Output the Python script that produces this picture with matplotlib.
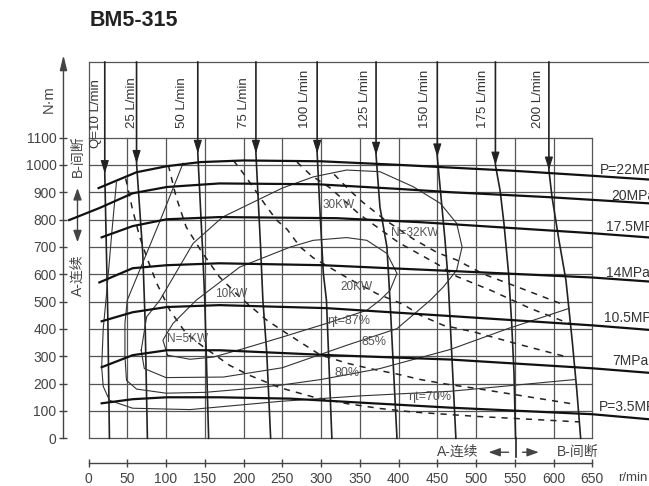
import numpy as np
import matplotlib.pyplot as plt

# ---------------- values (n in r/min, T in N.m) ----------------
speed_ticks = np.arange(0, 651, 50)
torque_ticks = np.arange(0, 1101, 100)

# pressure curves
p_labels = ["P=22MPa", "20MPa", "17.5MPa", "14MPa", "10.5MPa", "7MPa", "P=3.5MPa"]
p22_n = [13, 62, 101, 144, 200, 300, 400, 467, 550, 650, 730]
p22_T = [915, 973, 995, 1010, 1016, 1013, 1000, 990, 978, 960, 945]
p20_n = [-25, 14, 57, 101, 169, 295, 400, 467, 593, 730]
p20_T = [798, 842, 896, 919, 932, 929, 912, 900, 882, 858]
p175_n = [17, 57, 101, 169, 320, 430, 650, 730]
p175_T = [735, 776, 801, 809, 805, 790, 750, 733]
p14_n = [14, 57, 101, 169, 302, 467, 650, 730]
p14_T = [570, 622, 633, 640, 633, 612, 588, 572]
p105_n = [17, 57, 101, 169, 307, 467, 650, 730]
p105_T = [428, 461, 480, 487, 476, 447, 413, 395]
p7_n = [17, 57, 101, 169, 312, 467, 650, 730]
p7_T = [260, 304, 322, 322, 304, 288, 256, 238]
p35_n = [17, 57, 101, 169, 260, 467, 650, 730]
p35_T = [128, 143, 150, 150, 145, 112, 88, 68]

# flow curves
q_labels = ["Q=10 L/min", "25 L/min", "50 L/min", "75 L/min", "100 L/min",
            "125 L/min", "150 L/min", "175 L/min", "200 L/min"]
q_label_n = [10, 56, 120, 200, 279, 357, 434, 509, 580]
q10_n = [21, 21, 23, 25, 27];            q10_T = [1376, 968, 700, 432, 0]
q25_n = [62, 62, 70, 73, 76];            q25_T = [1376, 1005, 677, 432, 0]
q50_n = [141, 141, 147, 150, 155];       q50_T = [1376, 1042, 700, 505, 0]
q75_n = [216, 216, 222, 225, 230, 235];  q75_T = [1376, 1042, 700, 505, 311, 0]
q100_n = [295, 295, 299, 303, 307, 314]; q100_T = [1376, 1042, 810, 603, 505, 0]
q125_n = [371, 371, 376, 385, 389, 398]; q125_T = [1376, 1035, 846, 700, 505, 0]
q150_n = [450, 450, 454, 460, 464, 474]; q150_T = [1376, 1029, 907, 724, 578, 0]
q175_n = [525, 525, 531, 536, 542, 546, 549, 551]
q175_T = [1376, 999, 907, 786, 603, 420, 237, 0]
q200_n = [594, 594, 598, 607, 616, 624, 630, 635]
q200_T = [1376, 981, 883, 724, 578, 359, 176, 0]

# power curves (dashed)
kw5_n = [48, 57, 66, 75, 88, 105, 126, 148, 182, 208, 247, 290, 333, 376, 419, 501, 633]
kw5_T = [950, 834, 737, 663, 567, 468, 383, 335, 267, 230, 185, 151, 127, 109, 96, 80, 60]
kw10_n = [103, 113, 126, 146, 169, 195, 230, 256, 299, 333, 363, 398, 428, 462, 501, 622]
kw10_T = [999, 883, 773, 682, 590, 517, 432, 383, 305, 275, 255, 235, 215, 198, 182, 127]
kw20_n = [187, 200, 212, 230, 243, 256, 273, 290, 335, 372, 406, 428, 458, 497, 560, 618]
kw20_T = [1016, 968, 920, 846, 797, 765, 700, 660, 585, 529, 490, 450, 413, 389, 340, 297]
kw30_n = [269, 287, 312, 350, 400, 450, 475, 520, 570, 620]
kw30_T = [1010, 962, 915, 818, 716, 637, 592, 540, 475, 420]
kw32_n = [317, 336, 354, 381, 419, 450, 475, 510, 553, 609]
kw32_T = [965, 909, 863, 802, 729, 679, 652, 600, 554, 493]
kw_labels = ["N=5KW", "10KW", "20KW", "30KW", "N=32KW"]
kw_label_n = [128, 184, 346, 323, 421]
kw_label_T = [362, 527, 553, 853, 750]

# efficiency contours (thin)
e87_n = [102, 131, 161, 200, 251, 307, 359, 376, 389, 398, 385, 359, 333, 290, 260, 195, 139, 109, 96, 102]
e87_T = [304, 289, 297, 328, 371, 420, 468, 505, 541, 603, 676, 724, 734, 724, 699, 626, 505, 420, 359, 304]
e85_n = [68, 72, 100, 174, 250, 333, 398, 441, 458, 475, 482, 475, 454, 419, 376, 333, 290, 250, 173, 135, 92, 75, 68]
e85_T = [322, 255, 222, 224, 258, 340, 401, 505, 554, 615, 700, 786, 859, 920, 975, 981, 956, 915, 809, 713, 505, 444, 322]
e80_n = [122, 93, 50, 47, 47, 49, 62, 100, 150, 200, 247, 300, 376, 467, 540, 620]
e80_T = [1006, 800, 505, 420, 300, 212, 180, 165, 168, 180, 194, 215, 255, 325, 400, 475]
e70_n = [36, 30, 24, 19, 17, 19, 27, 57, 131, 247, 350, 467, 628]
e70_T = [935, 750, 550, 400, 260, 190, 139, 110, 105, 135, 155, 172, 215]
eff_labels = ["\u03b7t=87%", "85%", "80%", "\u03b7t=70%"]
eff_label_n = [336, 368, 334, 440]
eff_label_T = [428, 351, 238, 150]

# ---------------- figure ----------------
cjk = ['Liberation Sans', 'Noto Sans CJK SC', 'DejaVu Sans']
plt.rcParams['font.family'] = cjk
plt.rcParams['axes.unicode_minus'] = False

fig = plt.figure(figsize=(6.49, 4.86), dpi=100)
ax = fig.add_axes([88.5 / 649, 47.7 / 486, 503.8 / 649, 300.8 / 486])
ax.set_xlim(0, 650)
ax.set_ylim(0, 1100)

gridc = '#555555'
txtc = '#444444'

# grid
for x in speed_ticks:
    ax.plot([x, x], [0, 1100], color=gridc, lw=0.9, zorder=1, clip_on=False)
for y in torque_ticks:
    ax.plot([0, 650], [y, y], color=gridc, lw=0.9, zorder=1, clip_on=False)

# spines / axes
for s in ['top', 'right']:
    ax.spines[s].set_visible(False)
ax.spines['left'].set_position(('data', -32.3))
ax.spines['bottom'].set_position(('data', -91.5))
ax.spines['left'].set_color(txtc)
ax.spines['bottom'].set_color(txtc)
ax.spines['left'].set_linewidth(1.0)
ax.spines['bottom'].set_linewidth(1.0)
ax.set_xticks(speed_ticks)
ax.set_yticks(torque_ticks)
ax.tick_params(axis='both', direction='inout', length=6, width=1.0, color=txtc,
               labelcolor=txtc, labelsize=10)
ax.tick_params(axis='y', pad=2)
ax.tick_params(axis='x', pad=3)

ax.annotate('', xy=(-32.3, 1401), xytext=(-32.3, 1100), annotation_clip=False,
            arrowprops=dict(arrowstyle='-|>,head_length=0.9,head_width=0.22',
                            color=txtc, lw=1.0, mutation_scale=10, shrinkA=0, shrinkB=0))
ax.text(-51, 1240, 'N\u00b7m', rotation=90, ha='center', va='center', fontsize=10.5, color=txtc)
ax.text(683, -146, 'r/min', ha='left', va='center', fontsize=9.5, color=txtc, clip_on=False)

# top box for flow labels
ax.plot([0, 730], [1376, 1376], color=gridc, lw=0.9, clip_on=False)
ax.plot([0, 0], [1100, 1376], color=gridc, lw=0.9, clip_on=False)

# pressure curves
pn = [p22_n, p20_n, p175_n, p14_n, p105_n, p7_n, p35_n]
pT = [p22_T, p20_T, p175_T, p14_T, p105_T, p7_T, p35_T]
p_lab_n = [660, 674, 668, 668, 665, 676, 658]
p_lab_T = [981, 885, 772, 606, 440, 282, 115]
for n, T in zip(pn, pT):
    ax.plot(n, T, color='#111111', lw=1.6, zorder=4, clip_on=False)
for lab, x, y in zip(p_labels, p_lab_n, p_lab_T):
    ax.text(x, y, lab, ha='left', va='center', fontsize=10, color='#333333', clip_on=False)

# flow curves
qn = [q10_n, q25_n, q50_n, q75_n, q100_n, q125_n, q150_n, q175_n, q200_n]
qT = [q10_T, q25_T, q50_T, q75_T, q100_T, q125_T, q150_T, q175_T, q200_T]
for n, T in zip(qn, qT):
    ax.plot(n, T, color='#222222', lw=1.2, zorder=3, clip_on=False)
    ax.annotate('', xy=(n[1], T[1]), xytext=(n[1], T[1] + 45), annotation_clip=False,
                arrowprops=dict(arrowstyle='-|>,head_length=0.8,head_width=0.25',
                                color='#222222', lw=0.8, mutation_scale=10,
                                shrinkA=0, shrinkB=0))
for i, (lab, x) in enumerate(zip(q_labels, q_label_n)):
    y = 1061 if i == 0 else 1134
    ax.text(x, y, lab, rotation=90, ha='center', va='bottom', fontsize=9.5,
            color='#333333', clip_on=False)
# A / B separator on the speed side
ax.plot([551, 551], [0, -70], color='#222222', lw=1.2, clip_on=False)

# power curves
for n, T in zip([kw5_n, kw10_n, kw20_n, kw30_n, kw32_n], [kw5_T, kw10_T, kw20_T, kw30_T, kw32_T]):
    ax.plot(n, T, color='#222222', lw=1.1, ls=(0, (4, 4)), zorder=3)
for lab, x, y in zip(kw_labels, kw_label_n, kw_label_T):
    ax.text(x, y, lab, ha='center', va='center', fontsize=8.5, color='#555555', zorder=5)

# efficiency contours
for n, T in zip([e87_n, e85_n, e80_n, e70_n], [e87_T, e85_T, e80_T, e70_T]):
    ax.plot(n, T, color='#333333', lw=0.8, zorder=3)
for lab, x, y in zip(eff_labels, eff_label_n, eff_label_T):
    ax.text(x, y, lab, ha='center', va='center', fontsize=9, color='#555555', zorder=5)

# continuous / intermittent notes
ax.text(476, -51, 'A-连续', ha='center', va='center', fontsize=10, color=txtc, clip_on=False)
ax.text(631, -51, 'B-间断', ha='center', va='center', fontsize=10, color=txtc, clip_on=False)
arr = dict(arrowstyle='-|>,head_length=0.7,head_width=0.25', color=txtc, lw=1.0,
           mutation_scale=10, shrinkA=0, shrinkB=0)
ax.annotate('', xy=(516, -51), xytext=(542, -51), arrowprops=arr, annotation_clip=False)
ax.annotate('', xy=(581, -51), xytext=(560, -51), arrowprops=arr, annotation_clip=False)

ax.text(-14.2, 1032, 'B-间断', rotation=90, ha='center', va='center', fontsize=10,
        color=txtc, clip_on=False)
ax.text(-14.2, 596, 'A-连续', rotation=90, ha='center', va='center', fontsize=10,
        color=txtc, clip_on=False)
ax.annotate('', xy=(-14.2, 915), xytext=(-14.2, 810), arrowprops=arr, annotation_clip=False)
ax.annotate('', xy=(-14.2, 717), xytext=(-14.2, 810), arrowprops=arr, annotation_clip=False)

fig.text(90 / 649, 1 - 20 / 486, 'BM5-315', ha='left', va='center', fontsize=15.5,
         fontweight='bold', color='#222222')

fig.savefig('out.png', dpi=100)
